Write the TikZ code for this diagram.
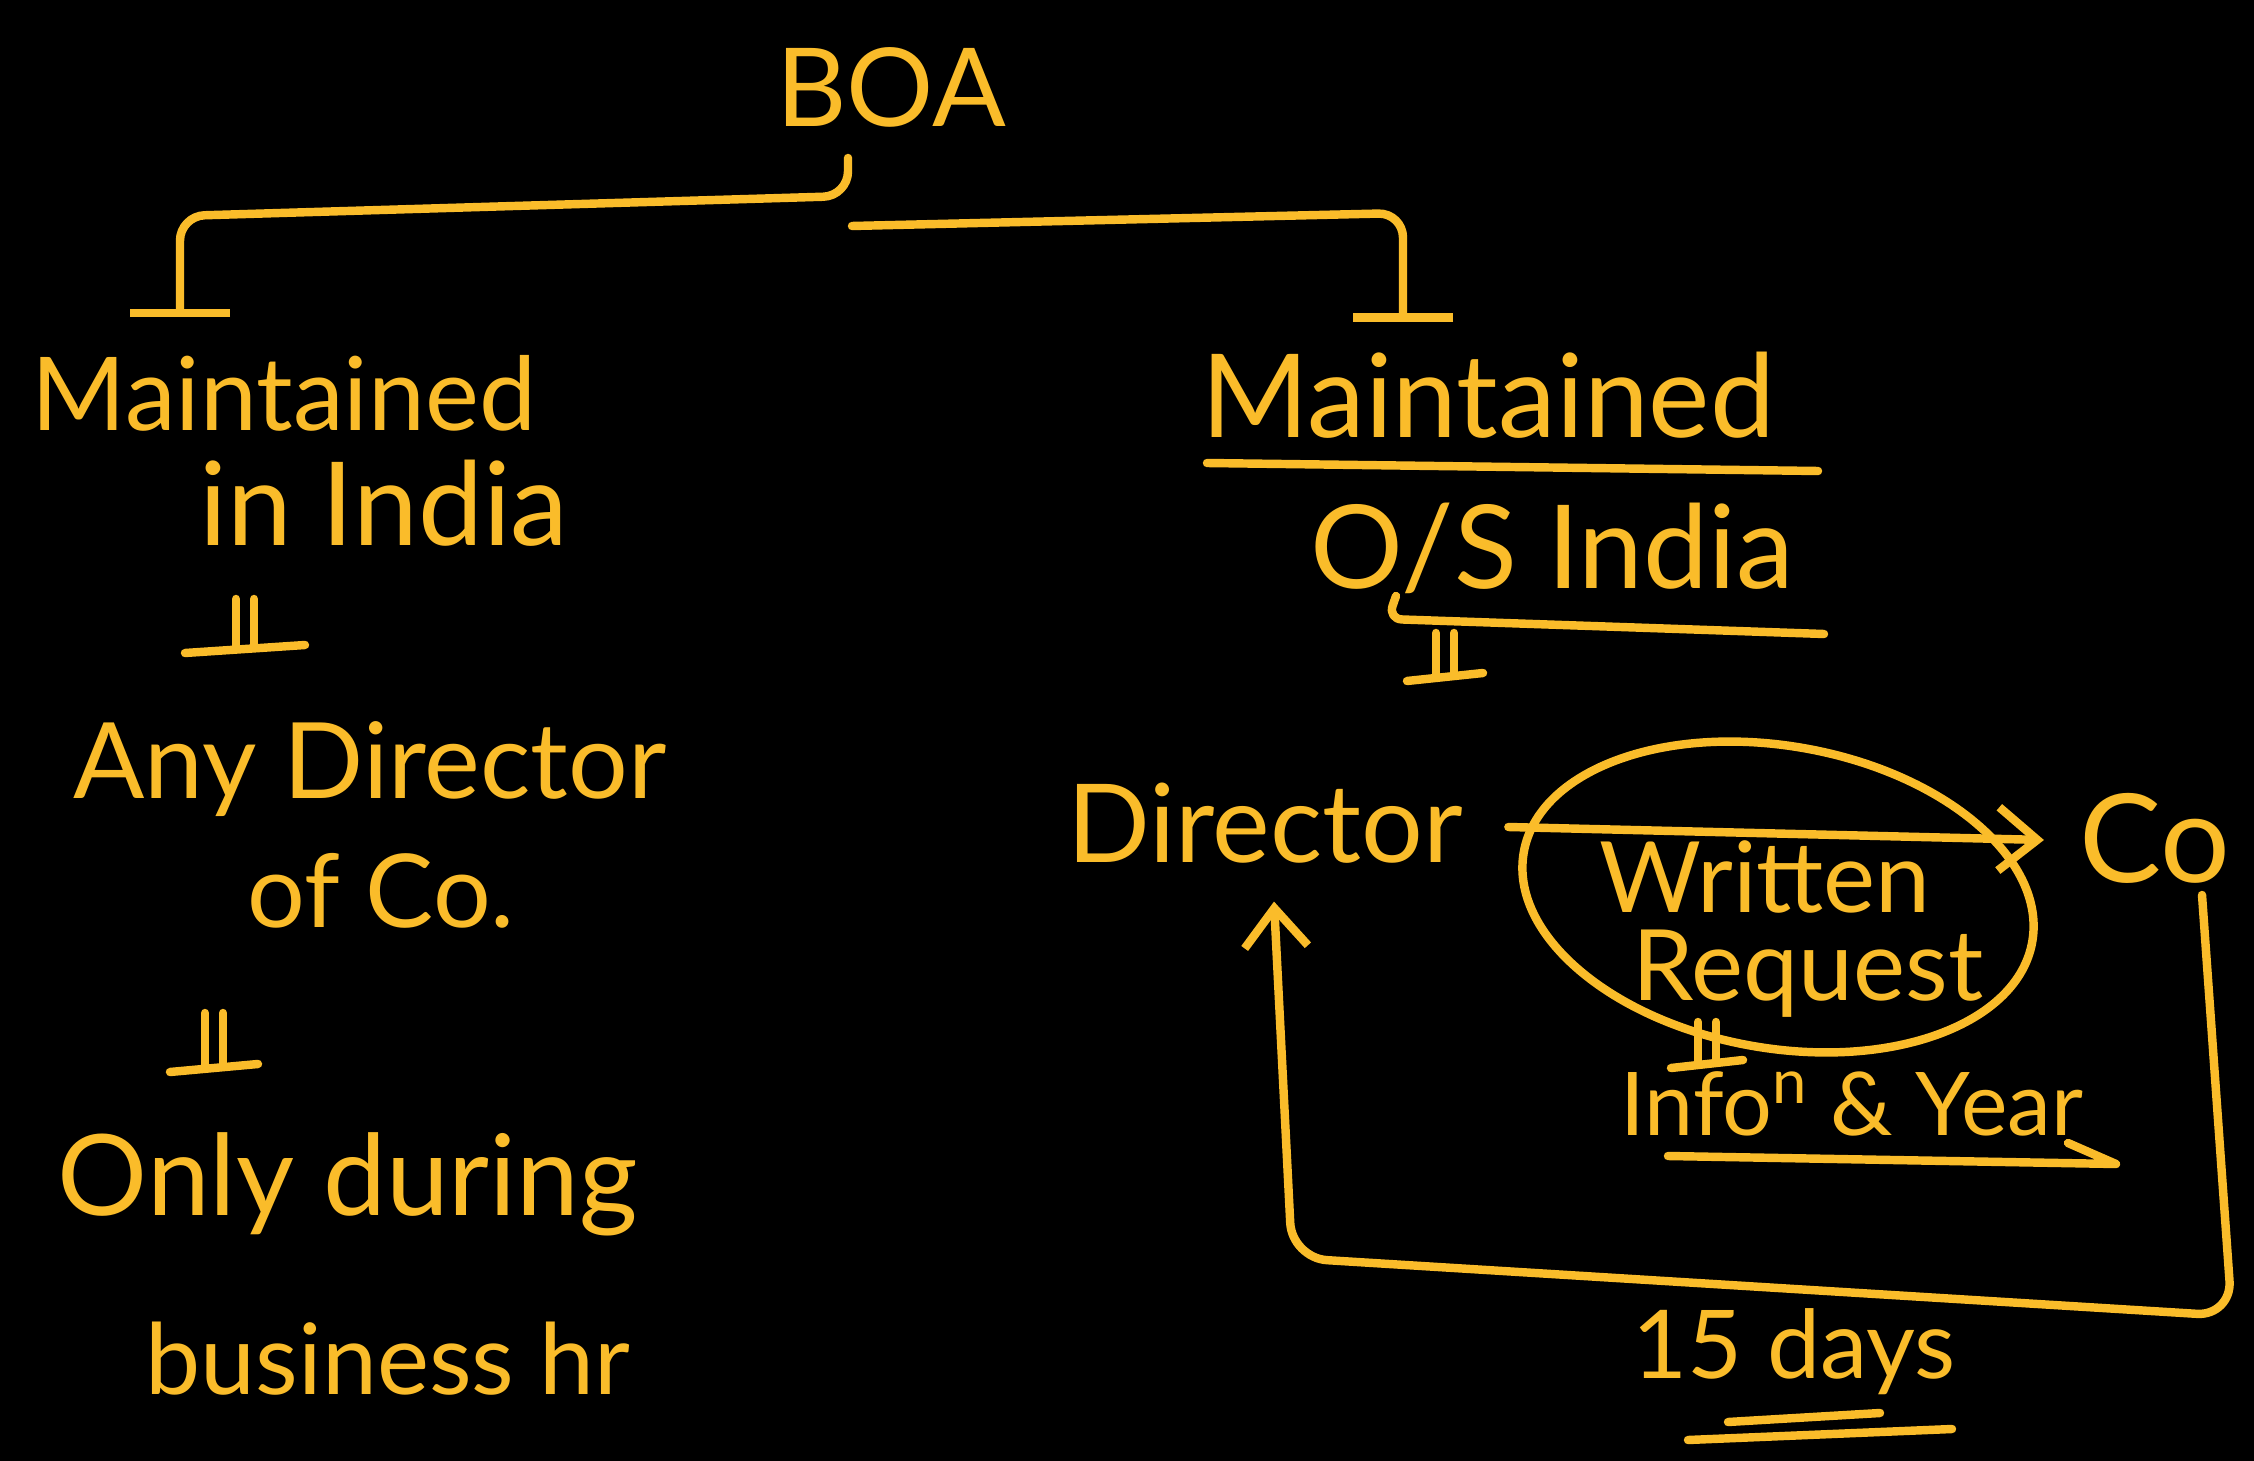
\documentclass[tikz,border=0pt]{standalone}
\usepackage{fontspec}
\setmainfont{Lato}
\usetikzlibrary{arrows.meta,calc}
\definecolor{ink}{RGB}{250,188,42}
\newcommand{\fs}[1]{\fontsize{#1}{#1}\selectfont}
\begin{document}
\begin{tikzpicture}[x=0.01cm,y=-0.01cm,
  hand/.style={text=ink, inner sep=0pt, anchor=base, font=\fs{30}},
  link/.style={draw=ink, line width=2.4pt, line cap=round, line join=round},
  tack/.style={link, -{Bar[width=1cm]}},
  barb/.style={link, -{Straight Barb[length=11pt,width=18pt]}},
  pics/dtack/.style 2 args={code={
    \draw[link] (-9,-#2) -- (-9,-3);
    \draw[link] (9,-#2) -- (9,-3);
    \draw[link] (-#1,4) -- (#1,-4);
  }}]
\fill[black] (0,0) rectangle (2254,1461);
\useasboundingbox (0,0) rectangle (2254,1461);

% title
\node[hand, font=\fs{31}] (boa) at (891,127) {BOA};

% left branch
\node[hand, font=\fs{29}] (lm1) at (284,431) {Maintained};
\node[hand, font=\fs{33}] (lm2) at (384,546) {in India};
\node[hand, font=\fs{30}] (ld1) at (370,798) {Any Director};
\node[hand, font=\fs{29}] (ld2) at (381,927) {of Co.};
\node[hand, font=\fs{32}] (lo1) at (348,1215) {Only during};
\node[hand, font=\fs{28}] (lo2) at (388,1394) {business hr};

% right branch
\node[hand, font=\fs{33}] (rm1) at (1488,438) {Maintained};
\node[hand, font=\fs{33}] (rm2) at (1552,589) {O/S India};
\node[hand, font=\fs{31}] (dir) at (1265,862) {Director};
\node[hand, font=\fs{35}] (co) at (2155,882) {Co};
\node[hand, font=\fs{28}] (wr1) at (1765,912) {Written};
\node[hand, font=\fs{28}] (wr2) at (1808,1000) {Request};
\node[hand, font=\fs{25}] (info) at (1852,1135) {Info\textsuperscript{n} \& Year};
\node[hand, font=\fs{27}] (days) at (1794,1378) {15 days};

% branches out of BOA
\coordinate (lx) at (180,0);
\coordinate (rx) at (1403,0);
\draw[tack, rounded corners=7pt] ($(boa.base)+(-43,31)$) -- ++(0,38)
  -- (180,216) -- ($(lm1.north -| lx)+(0,-38)$);
\draw[tack, rounded corners=7pt] ($(boa.base)+(-39,99)$) -- (1403,213)
  -- ($(rm1.north -| rx)+(0,-30)$);

% underlines on the right heading
\draw[link] (1207,463) -- (1818,471);
\draw[link, rounded corners=4pt] (1396,596) -- (1388,619) -- (1824,634);

% implication marks
\pic at (245,649) {dtack={60}{50}};
\pic at (214,1068) {dtack={44}{55}};
\pic at (1445,677) {dtack={38}{44}};
\pic at (1707,1064) {dtack={36}{42}};

% request from director to company
\draw[barb] ($(dir.base east)+(45,-35)$) -- ($(co.base west)+(-35,-42)$);
\draw[link, rotate around={-10:(1778,897)}] (1778,897) ellipse [x radius=2.58cm, y radius=1.51cm];
\draw[link] (1668,1156) -- (2116,1164) -- (2068,1143);

% reply within the period
\draw[barb, rounded corners=10pt] (2202,895) -- (2232,1316) -- (1292,1258)
  -- ($(dir.south)+(9,38)$);
\draw[link] (1688,1440) -- (1952,1429);
\draw[link] (1728,1422) -- (1880,1413);
\end{tikzpicture}
\end{document}
